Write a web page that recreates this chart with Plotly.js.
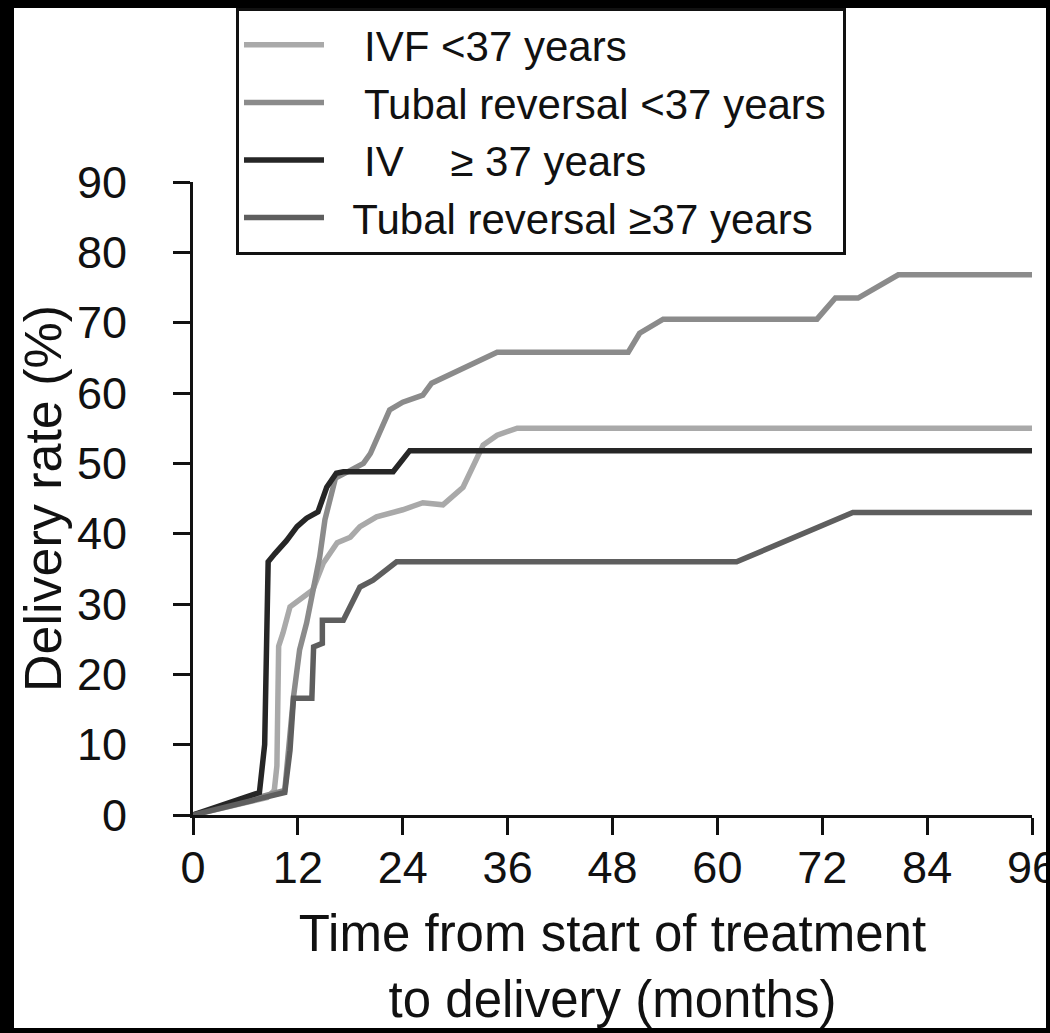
<!DOCTYPE html>
<html>
<head>
<meta charset="utf-8">
<script src="https://cdn.plot.ly/plotly-3.0.1.min.js"></script>
<style>
  html, body { margin: 0; padding: 0; background: #000000; width: 1050px; height: 1033px; overflow: hidden; }
  #chart { position: absolute; left: 14px; top: 8px; width: 1032px; height: 1020px; overflow: hidden; background: #ffffff; }
</style>
</head>
<body>
<div id="chart"></div>
<script>
// ---- data (months from start of treatment, cumulative delivery rate %) ----
const NB = "\u00a0";
const seriesNames = [
  NB + NB + NB + "IVF <37 years",
  NB + NB + NB + "Tubal reversal <37 years" + NB,
  NB + NB + NB + "IV" + NB + NB + NB + NB + "\u2265 37 years",
  NB + NB + "Tubal reversal \u226537 years"
];

const ivfYoungMonths = [0, 8.5, 9.3, 9.6, 9.8, 10.3, 11.1, 12.2, 13.7, 14.9, 16.5, 18, 19.1, 21, 24, 26.3, 28.6, 30.9, 32.3, 33.2, 34.8, 37.1, 96];
const ivfYoungRate   = [0, 2.5, 3.5, 7, 24, 25.9, 29.6, 30.6, 32, 35.8, 38.7, 39.5, 41, 42.4, 43.4, 44.4, 44.1, 46.6, 50, 52.6, 54, 55, 55];

const tubalYoungMonths = [0, 10.5, 11.5, 12.2, 13, 13.8, 14.5, 15.1, 15.9, 16.3, 18, 19.5, 20.3, 21.4, 22.5, 24, 26.3, 27.3, 29.4, 32, 34.8, 49.8, 51.1, 53.8, 71.4, 73.5, 76.1, 80.7, 96];
const tubalYoungRate   = [0, 3.5, 16.8, 23.5, 27.3, 32, 36.7, 42, 46.2, 47.9, 49, 50, 51.4, 54.7, 57.6, 58.7, 59.7, 61.4, 62.6, 64, 65.8, 65.8, 68.5, 70.5, 70.5, 73.5, 73.5, 76.8, 76.8];

const ivfOldMonths = [0, 7.6, 8.2, 8.3, 8.6, 9.4, 10.7, 11.9, 13.0, 14.3, 14.9, 15.3, 16.4, 17.2, 22.9, 24.8, 96];
const ivfOldRate   = [0, 3.2, 10, 15, 36, 37.2, 39, 41, 42.2, 43.1, 45.2, 46.6, 48.6, 48.8, 48.8, 51.8, 51.8];

const tubalOldMonths = [0, 10.5, 11.1, 11.5, 13.6, 13.8, 14.8, 14.8, 17.2, 18, 19.1, 20.6, 23.3, 62.2, 75.5, 96];
const tubalOldRate   = [0, 3.2, 9.2, 16.6, 16.6, 23.9, 24.4, 27.7, 27.7, 29.6, 32.4, 33.4, 36, 36, 43, 43];

const xTicks = [0, 12, 24, 36, 48, 60, 72, 84, 96];
const yTicks = [0, 10, 20, 30, 40, 50, 60, 70, 80, 90];

const lineColors = ["#a9a9a9", "#8b8b8b", "#262626", "#5e5e5e"];

const FONT = "Liberation Sans, Arial, Helvetica, sans-serif";

function mk(i, xs, ys) {
  return {
    type: "scatter",
    mode: "lines",
    name: seriesNames[i],
    legendgroup: "g" + i,
    x: xs,
    y: ys,
    line: { color: lineColors[i], width: 5.5 },
    hoverinfo: "skip"
  };
}

const traces = [
  mk(0, ivfYoungMonths, ivfYoungRate),
  mk(1, tubalYoungMonths, tubalYoungRate),
  mk(2, ivfOldMonths, ivfOldRate),
  mk(3, tubalOldMonths, tubalOldRate)
];

const W = 1032, H = 1020;
const L = 179, R = 14, T = 174, B = 213;
const pw = W - L - R, ph = H - T - B;

const layout = {
  width: W, height: H,
  margin: { l: L, r: R, t: T, b: B, pad: 0, autoexpand: false },
  paper_bgcolor: "#ffffff",
  plot_bgcolor: "#ffffff",
  font: { family: FONT, color: "#111111" },
  showlegend: true,
  legend: {
    x: (236 - 14 - L) / pw, xanchor: "left",
    y: (H - B) / ph, yanchor: "top",
    bgcolor: "#ffffff",
    bordercolor: "#111111",
    borderwidth: 3,
    font: { family: FONT, size: 42, color: "#111111" },
    itemwidth: 80,
    traceorder: "grouped",
    tracegroupgap: 0
  },
  xaxis: {
    range: [0, 96],
    tickmode: "array",
    tickvals: xTicks,
    ticktext: xTicks.map(String),
    ticks: "outside", ticklen: 17, tickwidth: 3, tickcolor: "#111111",
    showline: true, linecolor: "#111111", linewidth: 3,
    showgrid: false, zeroline: false,
    tickfont: { family: FONT, size: 45, color: "#111111" },
    ticklabelstandoff: -6,
    ticklabeloverflow: "allow",
    title: {
      text: "Time from start of treatment<br>to delivery (months)",
      font: { family: FONT, size: 51, color: "#111111" },
      standoff: 43
    },
    automargin: false,
    fixedrange: true
  },
  yaxis: {
    range: [0, 90],
    tickmode: "array",
    tickvals: yTicks,
    ticktext: yTicks.map(String),
    ticks: "outside", ticklen: 17, tickwidth: 3, tickcolor: "#111111",
    showline: true, linecolor: "#111111", linewidth: 3,
    showgrid: false, zeroline: false,
    tickfont: { family: FONT, size: 45, color: "#111111" },
    ticklabelstandoff: 37,
    ticklabeloverflow: "allow",
    title: {
      text: "Delivery rate (%)",
      font: { family: FONT, size: 52, color: "#111111" },
      standoff: 0
    },
    automargin: false,
    fixedrange: true
  },
  hovermode: false
};

Plotly.newPlot("chart", traces, layout, { displayModeBar: false, staticPlot: true });
</script>
</body>
</html>
